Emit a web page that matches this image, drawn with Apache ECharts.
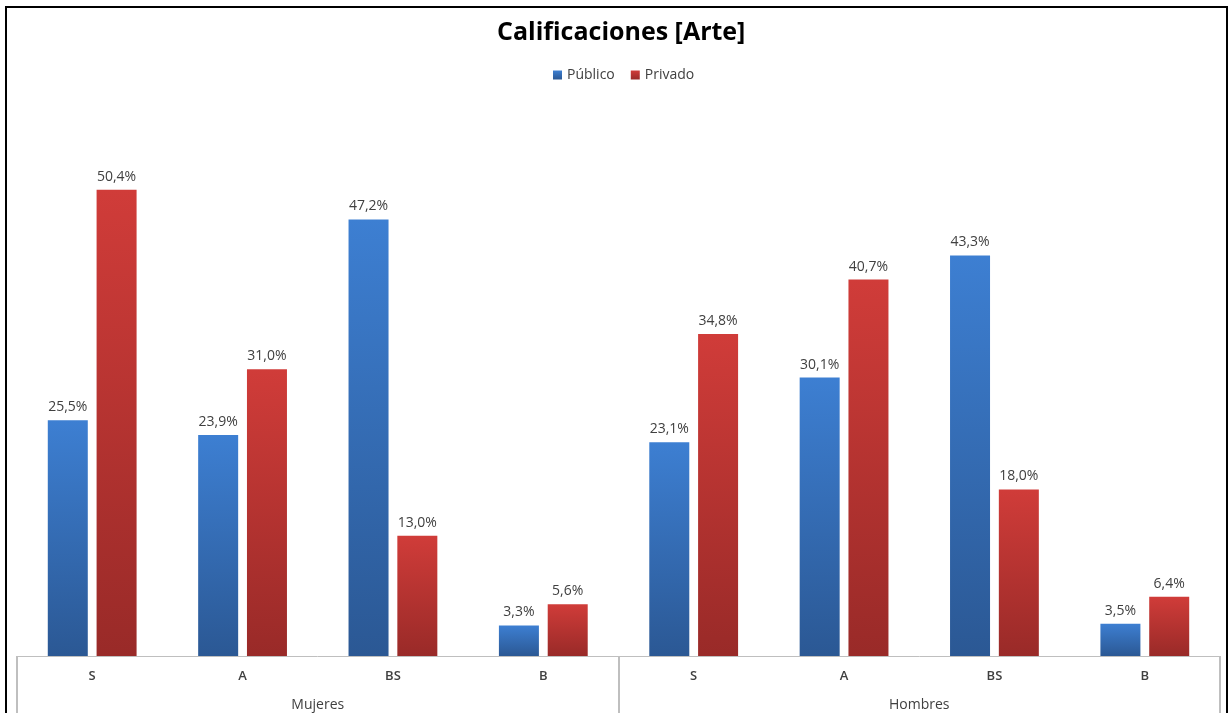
<!DOCTYPE html>
<html>
<head>
<meta charset="utf-8">
<style>html,body{margin:0;padding:0;background:#fff;}#c{width:1229px;height:713px;}</style>
<script src="https://cdn.jsdelivr.net/npm/echarts@6/dist/echarts.min.js"></script>
</head>
<body>
<div id="c"></div>
<script>
const groups = ['Mujeres', 'Hombres'];
const grades = ['S', 'A', 'BS', 'B'];
const publico = [25.5, 23.9, 47.2, 3.3, 23.1, 30.1, 43.3, 3.5];
const privado = [50.4, 31.0, 13.0, 5.6, 34.8, 40.7, 18.0, 6.4];
const seriesNames = ['Público', 'Privado'];

const categories = [];
groups.forEach(g => grades.forEach(s => categories.push(s + '|' + g)));

const chart = echarts.init(document.getElementById('c'));
const fontFam = 'Open Sans, Lato, sans-serif';
const fmt = p => p.value.toFixed(1).replace('.', ',') + '%';
function grad(top, bottom) {
  return new echarts.graphic.LinearGradient(0, 0, 0, 1, [
    { offset: 0, color: top }, { offset: 1, color: bottom }
  ]);
}
chart.setOption({
  backgroundColor: '#ffffff',
  animation: false,
  title: {
    text: 'Calificaciones [Arte]',
    left: 492, top: 15,
    textStyle: { fontFamily: fontFam, fontSize: 25, fontWeight: 'bold', color: '#000' }
  },
  legend: {
    data: seriesNames,
    top: 63, left: 548,
    itemWidth: 9, itemHeight: 9, itemGap: 16,
    icon: 'rect',
    textStyle: { fontFamily: fontFam, fontSize: 14, color: '#404040' }
  },
  grid: { left: 17, right: 9, top: 101, bottom: 57 },
  xAxis: [
    {
      type: 'category',
      data: categories,
      position: 'bottom',
      axisLine: { show: false },
      axisTick: { show: false },
      axisLabel: {
        margin: 14, fontFamily: fontFam, fontSize: 13, fontWeight: 600, color: '#404040',
        formatter: v => v.split('|')[0]
      }
    },
    {
      type: 'category',
      data: groups,
      position: 'bottom',
      axisLine: { show: true, lineStyle: { color: '#bfbfbf', width: 1 } },
      axisTick: { show: true, length: 60, lineStyle: { color: '#bfbfbf', width: 2 } },
      axisLabel: { margin: 42, fontFamily: fontFam, fontSize: 14, color: '#404040' }
    }
  ],
  yAxis: {
    type: 'value', min: 0, max: 60,
    show: false,
    splitLine: { show: false }
  },
  series: [
    {
      name: seriesNames[0], type: 'bar', xAxisIndex: 0,
      data: publico, barWidth: 40, barGap: '22%',
      itemStyle: { color: grad('#3d7fd2', '#2b5894') },
      label: { show: true, position: 'top', distance: 6, formatter: fmt,
        fontFamily: fontFam, fontSize: 14, color: '#404040' }
    },
    {
      name: seriesNames[1], type: 'bar', xAxisIndex: 0,
      data: privado, barWidth: 40, barGap: '22%',
      itemStyle: { color: grad('#d03c39', '#992a28') },
      label: { show: true, position: 'top', distance: 6, formatter: fmt,
        fontFamily: fontFam, fontSize: 14, color: '#404040' }
    }
  ],
  graphic: [{
    type: 'rect', silent: true, z: 100,
    shape: { x: 6, y: 7, width: 1221, height: 730 },
    style: { fill: 'none', stroke: '#000', lineWidth: 2 }
  }]
});
</script>
</body>
</html>
